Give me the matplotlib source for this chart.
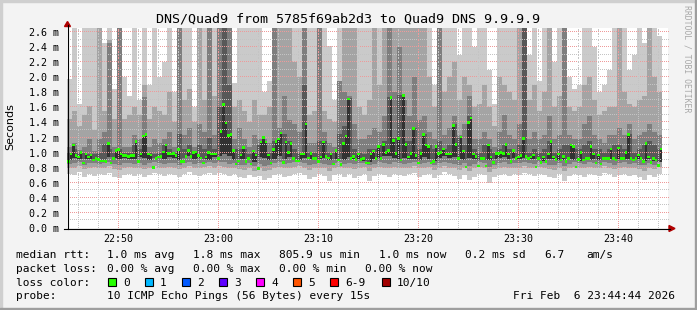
import numpy as np
import matplotlib.pyplot as plt
from matplotlib.ticker import MultipleLocator
from matplotlib.patches import Polygon, Rectangle

# ---- data ----
# time axis: minutes after 22:00, first sample at 22:44:52
start_min = 44.87
median_step = 0.25   # 15 s
smoke_step = 0.5     # 30 s (smoke read at half resolution)

tick_pos = [50, 60, 70, 80, 90, 100]
tick_labels = ["22:50", "23:00", "23:10", "23:20", "23:30", "23:40"]

# median rtt in ms, every 15 s
median_ms = [
    0.88, 0.98, 1.10, 0.96, 0.94, 1.00, 0.86, 0.98, 0.94, 0.97,
    0.90, 0.92, 0.91, 0.89, 0.89, 0.88, 1.12, 0.86, 0.92, 1.03,
    1.04, 0.98, 0.96, 0.96, 0.95, 0.96, 0.96, 1.15, 0.88, 0.98,
    1.22, 1.24, 0.98, 0.97, 0.80, 0.92, 0.94, 0.95, 1.01, 1.10,
    0.99, 0.98, 0.99, 0.96, 1.04, 0.88, 0.88, 0.95, 1.03, 0.95,
    1.00, 1.01, 0.96, 0.93, 0.86, 0.94, 1.00, 0.98, 0.98, 0.98,
    0.92, 1.28, 1.64, 1.39, 1.23, 1.24, 1.03, 0.85, 0.89, 0.97,
    1.07, 0.88, 0.92, 0.85, 1.02, 0.97, 0.79, 1.14, 1.20, 1.14,
    0.97, 0.86, 1.04, 1.15, 1.18, 1.26, 0.87, 1.14, 1.00, 1.12,
    0.92, 0.89, 0.89, 0.98, 0.98, 1.38, 0.93, 0.99, 0.92, 0.92,
    0.88, 0.94, 1.14, 0.95, 0.93, 0.98, 0.85, 1.03, 0.90, 0.84,
    1.12, 1.22, 1.71, 0.92, 0.95, 0.91, 0.98, 0.91, 0.92, 0.86,
    0.86, 0.98, 1.02, 0.92, 1.08, 0.92, 1.11, 1.00, 1.03, 1.73,
    1.16, 0.99, 1.19, 0.90, 1.76, 1.11, 0.94, 0.99, 1.32, 0.96,
    0.86, 0.99, 1.24, 1.10, 1.08, 0.86, 0.88, 1.08, 0.99, 1.00,
    1.05, 0.98, 0.98, 0.98, 1.36, 1.11, 0.92, 1.21, 1.02, 0.81,
    1.40, 1.46, 0.98, 0.95, 0.82, 0.92, 0.92, 0.82, 1.10, 0.94,
    0.87, 0.99, 0.99, 1.00, 0.99, 1.11, 0.98, 0.88, 1.03, 0.92,
    0.94, 0.96, 1.19, 0.95, 0.92, 0.94, 0.97, 0.81, 0.92, 0.87,
    0.94, 0.88, 0.98, 1.15, 0.94, 0.91, 0.98, 0.90, 0.95, 0.88,
    0.92, 1.10, 1.08, 0.81, 0.91, 1.00, 0.90, 0.92, 0.92, 1.08,
    0.98, 0.86, 0.97, 0.85, 0.92, 0.92, 0.92, 1.05, 0.92, 0.90,
    1.06, 0.92, 0.92, 1.00, 1.24, 0.92, 0.90, 0.92, 0.97, 0.92,
    0.88, 1.12, 0.94, 0.87, 0.92, 0.90, 0.83, 1.05,
]

# smoke: sorted pings, every 30 s (top side p10..p7, bottom side p1..p5)
ping10 = [
    1.97, 2.65, 1.65, 2.65, 2.65, 2.65, 2.65, 2.45, 2.65, 1.85,
    2.65, 2.00, 1.75, 2.65, 1.70, 2.65, 1.90, 2.65, 2.00, 2.20,
    2.65, 1.80, 2.65, 2.65, 2.65, 1.60, 2.65, 2.65, 2.65, 2.65,
    2.65, 2.65, 2.65, 1.92, 2.65, 2.65, 2.65, 2.65, 2.65, 1.80,
    1.95, 2.65, 2.65, 2.65, 2.65, 2.65, 2.65, 2.65, 2.65, 2.65,
    2.65, 2.65, 2.41, 1.70, 2.65, 2.65, 2.65, 2.65, 2.65, 2.65,
    2.65, 2.65, 2.65, 2.65, 2.65, 2.65, 2.65, 2.65, 2.65, 2.65,
    2.65, 2.65, 2.65, 1.90, 2.65, 2.65, 2.65, 2.65, 2.30, 2.65,
    2.65, 2.40, 2.65, 2.65, 2.10, 1.65, 2.65, 2.65, 2.65, 2.65,
    2.65, 2.65, 2.30, 2.65, 1.95, 2.65, 2.65, 2.20, 2.65, 2.65,
    2.00, 1.85, 1.90, 2.65, 2.65, 2.40, 1.80, 1.90, 2.10, 2.65,
    2.65, 2.65, 2.10, 2.30, 2.65, 2.45, 2.65, 2.65, 2.55,
]
ping9 = [
    1.45, 1.55, 1.35, 1.50, 1.62, 1.30, 2.65, 1.55, 2.50, 1.45,
    2.65, 1.45, 1.50, 1.60, 1.50, 1.90, 1.45, 1.60, 1.55, 1.50,
    1.80, 1.40, 2.65, 1.70, 1.85, 1.40, 2.65, 1.70, 2.65, 1.75,
    2.65, 2.65, 2.65, 1.60, 1.70, 1.55, 1.40, 1.70, 1.50, 1.50,
    1.60, 2.65, 2.65, 2.65, 2.65, 2.20, 2.00, 2.65, 1.50, 1.55,
    2.65, 1.55, 1.45, 1.40, 1.95, 2.65, 2.65, 2.65, 1.60, 1.50,
    1.70, 2.65, 1.90, 2.65, 2.65, 2.65, 2.65, 2.65, 2.65, 2.65,
    2.65, 2.65, 2.00, 1.60, 2.65, 1.80, 2.00, 2.20, 1.70, 2.00,
    1.90, 1.60, 1.65, 1.90, 1.60, 1.35, 2.00, 1.90, 1.80, 1.70,
    2.65, 2.65, 1.70, 1.90, 1.55, 1.80, 2.65, 1.60, 1.75, 2.65,
    1.60, 1.55, 1.60, 1.90, 2.00, 1.70, 1.50, 1.55, 1.60, 1.60,
    2.65, 1.80, 1.65, 1.60, 1.70, 1.75, 2.65, 2.00, 1.80,
]
ping8 = [
    1.08, 1.13, 1.03, 1.08, 1.18, 1.02, 1.18, 1.28, 2.45, 1.08,
    2.65, 1.08, 1.08, 1.23, 1.18, 1.74, 1.08, 1.18, 1.13, 1.18,
    1.28, 1.08, 2.65, 1.23, 1.33, 1.08, 1.38, 1.28, 2.65, 1.23,
    2.65, 2.65, 2.65, 1.18, 1.33, 1.18, 1.08, 1.23, 1.18, 1.18,
    1.13, 2.65, 1.33, 1.75, 1.43, 1.38, 1.28, 2.65, 1.13, 1.13,
    2.65, 1.28, 1.13, 1.08, 1.95, 1.80, 1.75, 1.38, 1.18, 1.18,
    1.23, 1.33, 1.28, 1.48, 2.65, 1.80, 2.40, 1.70, 1.48, 2.00,
    1.43, 1.48, 1.28, 1.18, 2.65, 1.23, 1.33, 1.48, 1.23, 1.38,
    1.75, 1.18, 1.18, 1.28, 1.18, 1.08, 1.28, 1.50, 1.23, 1.18,
    1.38, 2.65, 1.18, 1.28, 1.18, 1.23, 1.48, 1.18, 1.23, 2.65,
    1.23, 1.18, 1.18, 1.38, 1.48, 1.23, 1.18, 1.13, 1.23, 1.23,
    1.33, 1.23, 1.38, 1.18, 1.23, 1.28, 1.38, 1.28, 1.23,
]
ping7 = [
    1.00, 1.05, 0.99, 1.00, 0.98, 0.98, 1.00, 1.12, 1.05, 1.00,
    1.05, 1.00, 1.00, 1.10, 1.05, 1.22, 1.00, 0.98, 1.00, 1.10,
    1.05, 1.00, 1.25, 1.05, 1.10, 1.00, 1.10, 1.05, 1.20, 1.05,
    1.60, 2.65, 1.90, 1.05, 1.05, 1.05, 0.98, 1.00, 1.10, 1.15,
    1.00, 1.15, 1.20, 1.25, 1.15, 1.05, 1.00, 1.90, 1.00, 1.00,
    1.15, 1.15, 1.00, 1.00, 1.25, 1.35, 1.72, 1.05, 1.00, 0.98,
    1.05, 1.05, 1.10, 1.15, 1.74, 1.20, 1.77, 1.15, 1.15, 1.33,
    1.05, 1.25, 1.10, 1.05, 1.15, 1.05, 1.10, 1.38, 1.20, 1.10,
    1.48, 1.05, 1.00, 1.10, 1.05, 1.00, 1.05, 1.10, 1.05, 1.00,
    1.10, 2.65, 1.00, 1.05, 1.00, 1.05, 1.15, 1.00, 1.05, 1.10,
    1.10, 1.05, 1.05, 1.10, 1.15, 1.05, 1.05, 1.00, 1.05, 1.10,
    1.10, 1.05, 1.25, 1.00, 1.05, 1.10, 1.15, 1.10, 1.05,
]
ping5 = [
    0.90, 0.93, 0.92, 0.91, 0.92, 0.90, 0.89, 0.90, 0.94, 0.93,
    0.92, 0.93, 0.91, 0.92, 0.94, 0.93, 0.90, 0.93, 0.94, 0.92,
    0.94, 0.93, 0.90, 0.93, 0.95, 0.92, 0.93, 0.92, 0.90, 0.94,
    0.95, 0.98, 0.95, 0.90, 0.92, 0.91, 0.90, 0.88, 0.94, 0.93,
    0.90, 0.92, 0.95, 0.92, 0.94, 0.91, 0.90, 0.93, 0.91, 0.90,
    0.92, 0.93, 0.90, 0.92, 0.91, 0.90, 0.94, 0.92, 0.91, 0.89,
    0.88, 0.92, 0.93, 0.95, 0.96, 0.93, 0.92, 0.93, 0.92, 0.91,
    0.90, 0.94, 0.91, 0.89, 0.93, 0.95, 0.93, 0.94, 0.92, 0.90,
    0.93, 0.92, 0.90, 0.90, 0.90, 0.91, 0.93, 0.94, 0.91, 0.93,
    0.92, 0.93, 0.92, 0.91, 0.90, 0.89, 0.91, 0.92, 0.90, 0.90,
    0.91, 0.90, 0.89, 0.91, 0.90, 0.91, 0.90, 0.90, 0.91, 0.90,
    0.91, 0.92, 0.91, 0.90, 0.91, 0.89, 0.91, 0.89, 0.88,
]
ping3 = [
    0.85, 0.86, 0.87, 0.84, 0.86, 0.86, 0.85, 0.86, 0.87, 0.85,
    0.84, 0.86, 0.86, 0.85, 0.86, 0.84, 0.86, 0.87, 0.86, 0.85,
    0.86, 0.86, 0.84, 0.86, 0.87, 0.85, 0.86, 0.86, 0.87, 0.86,
    0.87, 0.87, 0.85, 0.86, 0.84, 0.83, 0.86, 0.82, 0.85, 0.82,
    0.84, 0.86, 0.87, 0.85, 0.86, 0.87, 0.87, 0.86, 0.84, 0.85,
    0.86, 0.85, 0.83, 0.86, 0.87, 0.85, 0.86, 0.85, 0.86, 0.86,
    0.83, 0.85, 0.87, 0.86, 0.85, 0.87, 0.86, 0.85, 0.86, 0.87,
    0.85, 0.86, 0.87, 0.84, 0.86, 0.87, 0.86, 0.85, 0.83, 0.86,
    0.82, 0.85, 0.87, 0.86, 0.81, 0.84, 0.86, 0.87, 0.85, 0.86,
    0.86, 0.87, 0.86, 0.85, 0.87, 0.86, 0.84, 0.83, 0.86, 0.82,
    0.85, 0.87, 0.86, 0.85, 0.87, 0.86, 0.85, 0.87, 0.86, 0.84,
    0.86, 0.87, 0.85, 0.86, 0.84, 0.83, 0.86, 0.84, 0.87,
]
ping2 = [
    0.80, 0.79, 0.82, 0.78, 0.80, 0.81, 0.79, 0.80, 0.82, 0.78,
    0.77, 0.80, 0.81, 0.79, 0.80, 0.78, 0.80, 0.82, 0.80, 0.79,
    0.81, 0.80, 0.78, 0.80, 0.82, 0.79, 0.80, 0.81, 0.82, 0.80,
    0.82, 0.81, 0.79, 0.80, 0.78, 0.77, 0.80, 0.76, 0.79, 0.75,
    0.77, 0.80, 0.81, 0.79, 0.80, 0.81, 0.82, 0.80, 0.77, 0.79,
    0.80, 0.79, 0.76, 0.80, 0.81, 0.79, 0.80, 0.78, 0.80, 0.81,
    0.76, 0.79, 0.81, 0.80, 0.79, 0.81, 0.80, 0.79, 0.80, 0.82,
    0.79, 0.80, 0.81, 0.77, 0.80, 0.82, 0.80, 0.79, 0.77, 0.80,
    0.76, 0.79, 0.81, 0.80, 0.74, 0.78, 0.80, 0.81, 0.79, 0.80,
    0.80, 0.82, 0.80, 0.79, 0.81, 0.80, 0.78, 0.77, 0.80, 0.75,
    0.79, 0.81, 0.80, 0.79, 0.81, 0.80, 0.79, 0.82, 0.80, 0.78,
    0.80, 0.81, 0.79, 0.80, 0.78, 0.76, 0.80, 0.78, 0.81,
]
ping1 = [
    0.72, 0.70, 0.74, 0.68, 0.71, 0.69, 0.72, 0.70, 0.73, 0.68,
    0.66, 0.70, 0.71, 0.69, 0.72, 0.67, 0.70, 0.73, 0.71, 0.69,
    0.72, 0.70, 0.68, 0.71, 0.74, 0.70, 0.69, 0.72, 0.73, 0.70,
    0.73, 0.72, 0.69, 0.71, 0.68, 0.66, 0.70, 0.67, 0.69, 0.64,
    0.66, 0.70, 0.72, 0.68, 0.69, 0.71, 0.73, 0.70, 0.65, 0.68,
    0.71, 0.69, 0.63, 0.70, 0.72, 0.68, 0.71, 0.66, 0.69, 0.72,
    0.62, 0.69, 0.71, 0.70, 0.68, 0.72, 0.70, 0.69, 0.71, 0.73,
    0.68, 0.70, 0.72, 0.66, 0.70, 0.74, 0.71, 0.69, 0.65, 0.70,
    0.64, 0.68, 0.72, 0.70, 0.60, 0.67, 0.70, 0.72, 0.69, 0.71,
    0.70, 0.73, 0.71, 0.69, 0.72, 0.70, 0.68, 0.66, 0.71, 0.63,
    0.69, 0.72, 0.70, 0.68, 0.72, 0.70, 0.69, 0.73, 0.71, 0.67,
    0.70, 0.72, 0.69, 0.70, 0.68, 0.64, 0.70, 0.67, 0.72,
]

loss_labels = ["0", "1", "2", "3", "4", "5", "6-9", "10/10"]
loss_colors = ["#26ff00", "#00b8ff", "#0059ff", "#5e00ff", "#ff00ff",
               "#ff5500", "#ff0000", "#a10000"]

# ---- figure ----
W, H = 697, 310
MONO = "DejaVu Sans Mono"
x_lo, x_hi = start_min, 104.97
y_lo, y_hi = 0, 2.653


def fx(px):
    return px / W


def fy(py):
    return 1 - py / H


fig = plt.figure(figsize=(W / 100, H / 100), dpi=100, facecolor="#f3f3f3")
ax = fig.add_axes([fx(67), fy(228), (668 - 67) / W, 200 / H])
ax.set_facecolor("white")

# smoke bands, outer pair lightest, inner pair darkest
med = np.array(median_ms)
t_med = start_min + median_step * np.arange(len(med) + 1)
t_smoke = start_min + smoke_step * np.arange(len(ping10) + 1)

bands = [(ping1, ping10, "#cacaca"), (ping2, ping9, "#a4a4a4"),
         (ping3, ping8, "#7e7e7e"), (ping5, ping7, "#585858")]
for lo, hi, col in bands:
    lo = np.append(lo, lo[-1])
    hi = np.append(hi, hi[-1])
    ax.fill_between(t_smoke, lo, hi, step="post", color=col, lw=0, zorder=1)

# innermost band p5 -> median (p5 can not lie above the median)
p5_fine = np.minimum(np.repeat(ping5, 2)[:len(med)], med)
ax.fill_between(t_med, np.append(p5_fine, p5_fine[-1]), np.append(med, med[-1]),
                step="post", color="#323232", lw=0, zorder=1.2)

# median markers (loss 0 -> green)
ax.bar(t_med[:-1], 0.034, bottom=med - 0.017, width=median_step, align="edge",
       color=loss_colors[0], lw=0, zorder=4)

# dotted rrdtool style grid: one pixel on, one pixel off
px_x = (x_hi - x_lo) / 601
px_y = (y_hi - y_lo) / 200
dot_x = np.arange(x_lo + px_x / 2, x_hi, 2 * px_x)
dot_y = np.arange(y_lo + px_y / 2, y_hi, 2 * px_y)
for k in range(1, 27):
    gy = k * 0.1
    col = "#ee9a9a" if k % 2 == 0 else "#c4c4c4"
    ax.plot(dot_x, np.full_like(dot_x, gy), ls="none", marker=",", color=col, zorder=2.5)
for gx in range(46, 105, 2):
    col = "#ee9a9a" if gx % 10 == 0 else "#c4c4c4"
    ax.plot(np.full_like(dot_y, gx), dot_y, ls="none", marker=",", color=col, zorder=2.5)

# axes
ax.set_xlim(x_lo, x_hi)
ax.set_ylim(y_lo, y_hi)
ax.set_xticks(tick_pos, labels=tick_labels)
ax.yaxis.set_major_locator(MultipleLocator(0.2))
ax.yaxis.set_major_formatter(lambda v, p: "%.1f m" % v)
ax.tick_params(which="both", length=0)
ax.tick_params(axis="x", pad=4)
ax.tick_params(axis="y", pad=5.5)
for lab in ax.get_xticklabels() + ax.get_yticklabels():
    lab.set_family(MONO)
    lab.set_fontsize(7.2)
for s in ax.spines.values():
    s.set_visible(False)

# axis lines with arrows
fig.add_artist(plt.Line2D([fx(67.5), fx(67.5)], [fy(229), fy(25)], color="black", lw=0.8))
fig.add_artist(plt.Line2D([fx(64), fx(670)], [fy(228.5), fy(228.5)], color="black", lw=0.8))
fig.add_artist(Polygon([[fx(64.5), fy(26.5)], [fx(70.5), fy(26.5)], [fx(67.5), fy(21.5)]],
                       closed=True, color="#b00000", transform=fig.transFigure))
fig.add_artist(Polygon([[fx(669), fy(225.5)], [fx(669), fy(231.5)], [fx(675), fy(228.5)]],
                       closed=True, color="#b00000", transform=fig.transFigure))

# frame shading
fig.add_artist(Rectangle((0, fy(2)), 1, 2 / H, color="#cfcfcf", transform=fig.transFigure))
fig.add_artist(Rectangle((0, 0), 2 / W, 1, color="#cfcfcf", transform=fig.transFigure))
fig.add_artist(Rectangle((0, 0), 1, 2 / H, color="#9e9e9e", transform=fig.transFigure))
fig.add_artist(Rectangle((fx(695), 0), 2 / W, 1, color="#9e9e9e", transform=fig.transFigure))

# titles
fig.text(fx(348.5), fy(19), "DNS/Quad9 from 5785f69ab2d3 to Quad9 DNS 9.9.9.9",
         ha="center", va="center", family=MONO, fontsize=9.6)
fig.text(fx(10), fy(127), "Seconds", rotation=90, ha="center", va="center",
         family="DejaVu Sans", fontsize=8)
fig.text(fx(687.5), fy(5), "RRDTOOL / TOBI OETIKER", rotation=270, ha="center", va="top",
         family=MONO, fontsize=5.9, color="#a8a8a8")

# legend rows
rows = [
    (257.7, [(16, "median rtt:"), (107.3, "1.0 ms avg"), (193.3, "1.8 ms max"),
             (279.3, "805.9 us min"), (379.3, "1.0 ms now"), (465, "0.2 ms sd"),
             (544, "6.7"), (586, "am/s")]),
    (271.7, [(16, "packet loss:"), (107.3, "0.00 % avg"), (193.3, "0.00 % max"),
             (279.3, "0.00 % min"), (365, "0.00 % now")]),
    (285.7, [(16, "loss color:")]),
    (299.3, [(16, "probe:"), (107.3, "10 ICMP Echo Pings (56 Bytes) every 15s"),
             (513.3, "Fri Feb  6 23:44:44 2026")]),
]
for y, items in rows:
    for x, s in items:
        fig.text(fx(x), fy(y), s, ha="left", va="baseline", family=MONO, fontsize=8)

box_x = [108, 145, 182, 219, 256, 293, 330, 381.7]
for bx, lab, col in zip(box_x, loss_labels, loss_colors):
    fig.add_artist(Rectangle((fx(bx), fy(286)), 8 / W, 8 / H, facecolor=col,
                             edgecolor="black", lw=0.8, transform=fig.transFigure))
    fig.text(fx(bx + 15), fy(285.7), lab, ha="left", va="baseline", family=MONO, fontsize=8)

fig.savefig("out.png", dpi=100, facecolor=fig.get_facecolor())
